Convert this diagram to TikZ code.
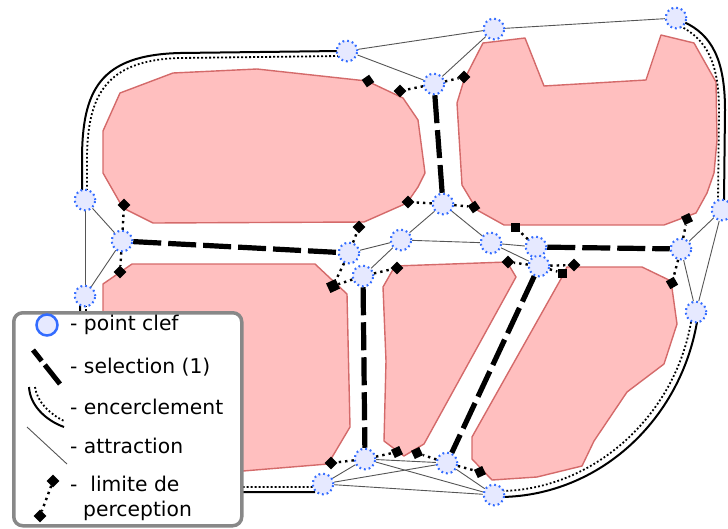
\documentclass[tikz,border=0pt]{standalone}
\usepackage{fontspec}
\setmainfont{DejaVu Sans}
\definecolor{obsfill}{HTML}{FFBFBF}
\definecolor{obsdraw}{HTML}{D46A6A}
\definecolor{kpblue}{HTML}{336CFF}
\definecolor{kpfill}{HTML}{E6E9FF}
\definecolor{legdraw}{HTML}{888888}
\definecolor{attr}{HTML}{555555}
\begin{document}
\begin{tikzpicture}[x=1pt,y=-1pt,
 obstacle/.style={fill=obsfill, draw=obsdraw, line width=1.4pt, line join=round},
 keypt/.style={circle, minimum size=20.5pt, inner sep=0pt, fill=kpfill, draw=kpblue, line width=2pt, dash pattern=on 1.6pt off 3.1pt},
 attraction/.style={draw=attr, line width=0.9pt},
 selection/.style={draw=black, line width=5.2pt, dash pattern=on 28pt off 7pt},
 encsolid/.style={draw=black, line width=2pt},
 encdot/.style={draw=black, line width=1.8pt, dash pattern=on 1.8pt off 2.2pt},
 limite/.style={draw=black, line width=2.4pt, dash pattern=on 2.4pt off 4pt},
 limpt/.style={rectangle, fill=black, minimum size=9pt, inner sep=0pt, rotate=45},
 legtext/.style={anchor=west, font=\fontsize{20.3}{22}\selectfont, inner sep=0pt},
]
\useasboundingbox (0,0) rectangle (728,528);

% obstacles
\draw[obstacle] (120,93) -- (173,73) -- (257,69) -- (367,81) -- (403,98) -- (418,120) -- (425,173) -- (418,187) -- (407,203) -- (364,222) -- (153,223) -- (123,208) -- (103,173) -- (103,131) -- cycle;
\draw[obstacle] (483,43) -- (525,38) -- (544,86) -- (646,80) -- (661,35) -- (694,43) -- (716,82) -- (717,140) -- (714,173) -- (707,193) -- (696,213) -- (664,225) -- (504,225) -- (477,210) -- (462,185) -- (457,103) -- (464,80) -- cycle;
\draw[obstacle] (132,264) -- (315,264) -- (347,294) -- (350,427) -- (328,464) -- (243,471) -- (160,470) -- (103,460) -- (103,284) -- cycle;
\draw[obstacle] (383,287) -- (395,266) -- (507,262) -- (516,277) -- (424,444) -- (404,456) -- (384,441) -- (386,361) -- cycle;
\draw[obstacle] (567,267) -- (642,267) -- (671,281) -- (677,324) -- (664,364) -- (627,392) -- (594,441) -- (582,466) -- (537,477) -- (492,480) -- (472,459) -- (472,437) -- (562,277) -- cycle;

% key points (coordinates of centres)
\coordinate (c1) at (347,51);
\coordinate (c2) at (85,200);
\coordinate (c6) at (676,18);
\coordinate (c12) at (722,210);
\coordinate (c16) at (85,296);
\coordinate (c17) at (323,484);
\coordinate (c18) at (696,312);
\coordinate (c20) at (494,495);

% encerclement
\draw[encsolid] (c1) ++(-8,0) -- (180,53) .. controls (100,55) and (82,90) .. (82,160) -- (82,192);
\draw[encdot] (c1) ++(-8,5) -- (180,58) .. controls (106,60) and (87,95) .. (87,160) -- (87,192);
\draw[encsolid] (c6) ++(8,4) .. controls (712,35) and (725,60) .. (725,110) -- (724,201);
\draw[encdot] (c6) ++(4,8) .. controls (706,39) and (719,62) .. (719,110) -- (718,201);
\draw[encsolid] (c18) ++(1,10) .. controls (680,420) and (600,495) .. (502,497);
\draw[encdot] (c18) ++(-5,10) .. controls (675,415) and (595,489) .. (502,491);
\draw[encsolid] (c16) ++(-5,9) -- (80,420) .. controls (80,470) and (110,490) .. (200,492) -- (315,492);
\draw[encdot] (c16) ++(1,9) -- (86,420) .. controls (86,463) and (112,486) .. (200,487) -- (315,487);

% key point nodes
\node[keypt] (p1) at (c1) {};
\node[keypt] (p2) at (c2) {};
\node[keypt] (p3) at (122,241) {};
\node[keypt] (p4) at (349,253) {};
\node[keypt] (p5) at (494,29) {};
\node[keypt] (p6) at (c6) {};
\node[keypt] (p7) at (434,84) {};
\node[keypt] (p8) at (443,204) {};
\node[keypt] (p9) at (401,240) {};
\node[keypt] (p10) at (491,243) {};
\node[keypt] (p11) at (536,247) {};
\node[keypt] (p12) at (c12) {};
\node[keypt] (p13) at (681,249) {};
\node[keypt] (p14) at (363,276) {};
\node[keypt] (p15) at (539,266) {};
\node[keypt] (p16) at (c16) {};
\node[keypt] (p17) at (c17) {};
\node[keypt] (p18) at (c18) {};
\node[keypt] (p19) at (447,463) {};
\node[keypt] (p20) at (c20) {};
\node[keypt] (p21) at (365,459) {};

% limit points
\node[limpt] (d1) at (400,91) {};
\node[limpt] (d2) at (464,77) {};
\node[limpt, rotate=-10] (d3) at (368,81) {};
\node[limpt] (d4) at (408,202) {};
\node[limpt, rotate=-10] (d5) at (474,207) {};
\node[limpt] (d6) at (124,205) {};
\node[limpt] (d7) at (120,272) {};
\node[limpt] (d8) at (359,227) {};
\node[limpt, rotate=-20, minimum size=10.5pt] (d9) at (333,286) {};
\node[limpt] (d10) at (397,268) {};
\node[limpt, rotate=-45] (d11) at (515,227) {};
\node[limpt] (d12) at (508,262) {};
\node[limpt, rotate=-45] (d13) at (562,273) {};
\node[limpt] (d14) at (574,265) {};
\node[limpt, rotate=-20] (d15) at (687,219) {};
\node[limpt, rotate=-15] (d16) at (672,283) {};
\node[limpt] (d17) at (331,463) {};
\node[limpt, rotate=-20] (d18) at (397,452) {};
\node[limpt, rotate=-20] (d19) at (417,453) {};
\node[limpt, rotate=-20] (d20) at (480,472) {};

% attraction
\foreach \a/\b in {p1/p5,p1/p7,p5/p6,p5/p7,p2/p3,p2/p16,p3/p16,p12/p13,p12/p18,p13/p18,p8/p9,p8/p10,p9/p10,p9/p4,p9/p14,p10/p11,p10/p15,p17/p21,p17/p19,p17/p20,p21/p19,p21/p20,p19/p20}
  \draw[attraction] (\a) -- (\b);

% selection
\draw[selection] (p3) -- (p4);
\draw[selection] (p7) -- (p8);
\draw[selection] (p11) -- (p13);
\draw[selection] (p14) -- (p21);
\draw[selection] (p15) -- (p19);

% limite de perception
\foreach \a/\b in {p7/d1,p7/d2,p8/d4,p8/d5,p3/d6,p3/d7,p4/d8,p4/d9,p14/d9,p14/d10,p11/d11,p15/d12,p15/d13,p15/d14,p13/d15,p13/d16,p21/d17,p21/d18,p19/d19,p19/d20}
  \draw[limite] (\a) -- (\b);

% redraw key points on top
\foreach \n in {p1,p2,p3,p4,p5,p6,p7,p8,p9,p10,p11,p12,p13,p14,p15,p16,p17,p18,p19,p20,p21}
  \node[keypt] at (\n) {};

% legend
\node[draw=legdraw, line width=3.5pt, rounded corners=9pt, fill=white, minimum width=228pt, minimum height=213pt, inner sep=0pt, anchor=north west] (legend) at (12,311) {};
\node[circle, minimum size=21pt, inner sep=0pt, draw=kpblue, line width=2.5pt, fill=kpfill] (lgkp) at (47,325) {};
\node[legtext] (lt1) at (70,325) {- point clef};
\coordinate (ls1) at (33,350);
\coordinate (ls2) at (60,384);
\draw[draw=black, line width=5pt, dash pattern=on 14pt off 5pt on 30pt off 5pt] (ls1) -- (ls2);
\node[legtext] (lt2) at (70,367) {- selection (1)};
\coordinate (le1) at (29,387);
\coordinate (le2) at (64,427);
\coordinate (le3) at (35,387);
\coordinate (le4) at (64,421);
\draw[encsolid] (le1) .. controls (30,405) and (45,420) .. (le2);
\draw[encdot] (le3) .. controls (37,402) and (50,414) .. (le4);
\node[legtext] (lt3) at (70,407) {- encerclement};
\coordinate (la1) at (27,427);
\coordinate (la2) at (67,464);
\draw[attraction] (la1) -- (la2);
\node[legtext] (lt4) at (70,446) {- attraction};
\node[limpt] (ld1) at (53,481) {};
\node[limpt] (ld2) at (40,516) {};
\draw[limite] (ld1) -- (ld2);
\node[legtext] (lt5) at (70,484) {-\ \ limite de};
\node[legtext] (lt6) at (83,511) {perception};
\end{tikzpicture}
\end{document}
